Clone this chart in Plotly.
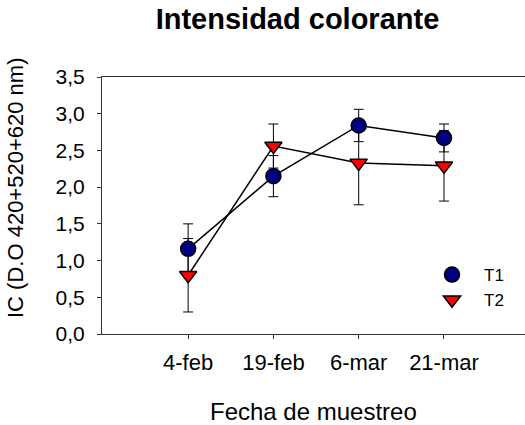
import plotly.graph_objects as go

fechas = ["4-feb", "19-feb", "6-mar", "21-mar"]
t1_vals = [1.16, 2.15, 2.84, 2.67]
t1_err = [0.34, 0.28, 0.22, 0.19]
t2_vals = [0.80, 2.56, 2.33, 2.29]
t2_err = [0.50, 0.30, 0.57, 0.48]
y_ticks = [0.0, 0.5, 1.0, 1.5, 2.0, 2.5, 3.0, 3.5]

xpos = list(range(len(fechas)))
FONT = "Liberation Sans, Arial, sans-serif"
W, H = 525, 425

fig = go.Figure()

# error bars first so markers cover them
for vals, errs in ((t1_vals, t1_err), (t2_vals, t2_err)):
    fig.add_trace(go.Scatter(
        x=xpos, y=vals, mode="markers",
        marker=dict(size=1, color="rgba(0,0,0,0)"),
        error_y=dict(type="data", array=errs, visible=True,
                     color="black", thickness=1, width=5),
        showlegend=False, hoverinfo="skip"))

# connecting lines
for vals in (t1_vals, t2_vals):
    fig.add_trace(go.Scatter(
        x=xpos, y=vals, mode="lines",
        line=dict(color="black", width=1.5),
        showlegend=False, hoverinfo="skip"))

fig.add_trace(go.Scatter(
    x=xpos, y=t1_vals, mode="markers", name="T1",
    marker=dict(symbol="circle", size=15, color="#000080",
                line=dict(color="black", width=1.5)),
    legendgroup="a"))
fig.add_trace(go.Scatter(
    x=xpos, y=t2_vals, mode="markers", name="T2",
    marker=dict(symbol="triangle-down", size=15, color="#ff0000",
                line=dict(color="black", width=1.5)),
    legendgroup="b"))

fig.update_layout(
    width=W, height=H,
    margin=dict(l=102, r=0, t=77, b=91),
    paper_bgcolor="white", plot_bgcolor="white",
    separators=",.",
    font=dict(family=FONT, size=21, color="black"),
    title=dict(text="<b>Intensidad colorante</b>", x=297.5/W, xanchor="center",
               y=1 - 19/H, yanchor="middle", yref="container",
               font=dict(family=FONT, size=29, color="black")),
    showlegend=True,
    legend=dict(x=(420-102)/423, y=1 - (257-77)/257, xanchor="left", yanchor="top",
                bgcolor="rgba(0,0,0,0)", borderwidth=0, tracegroupgap=0,
                itemwidth=54,
                font=dict(family=FONT, size=17, color="black")),
    xaxis=dict(range=[-1.01, 3.95], tickvals=xpos, ticktext=fechas,
               showgrid=False, zeroline=False, showline=True, linecolor="#333",
               linewidth=1, mirror=True, ticks="outside", ticklen=4,
               tickcolor="#333", tickfont=dict(size=22), ticklabelstandoff=5),
    yaxis=dict(range=[0, 3.5], tickvals=y_ticks, tickformat=".1f",
               showgrid=False, zeroline=False, showline=True, linecolor="#333",
               linewidth=1, ticks="outside", ticklen=4, tickcolor="#333",
               tickfont=dict(size=21), ticklabelstandoff=8),
    annotations=[
        dict(text="Fecha de muestreo", xref="paper", yref="paper",
             x=(313.5-102)/423, y=-(411.5-334)/257, xanchor="center", yanchor="middle",
             showarrow=False, font=dict(family=FONT, size=24, color="black")),
        dict(text="IC (D.O 420+520+620 nm)", xref="paper", yref="paper",
             x=-(102-15)/423, y=(334-188)/257, xanchor="center", yanchor="middle",
             textangle=-90, showarrow=False,
             font=dict(family=FONT, size=22, color="black")),
    ],
)

fig.write_html("out.html")
